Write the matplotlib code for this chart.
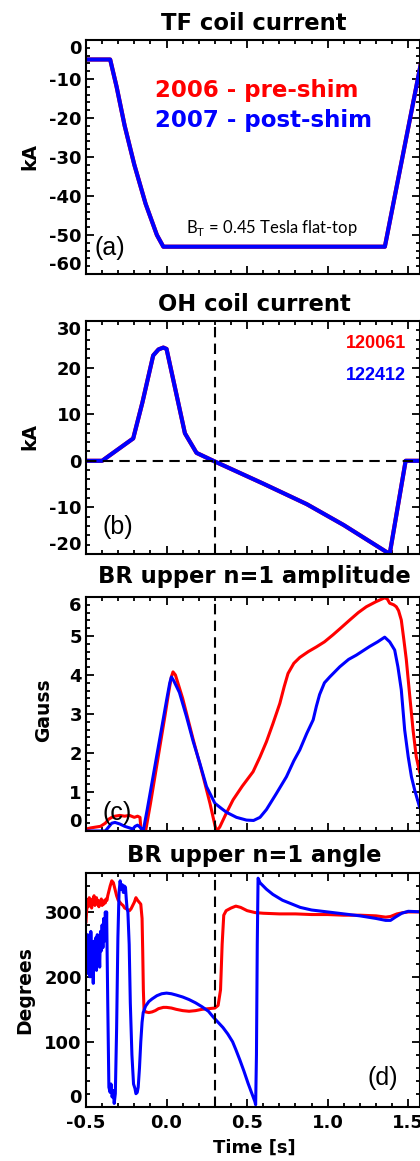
import matplotlib
matplotlib.use("Agg")
import matplotlib.pyplot as plt
from matplotlib.ticker import MultipleLocator, FixedLocator

plt.rcParams["axes.unicode_minus"] = False
plt.rcParams["font.family"] = ["DejaVu Sans"]

# ---------------- data ----------------
# (a) TF coil current [kA]
tf_t = [-0.5, -0.35, -0.31, -0.26, -0.20, -0.13, -0.06, -0.02, 1.355, 1.60]
tf_red = [-5, -5, -12, -22, -32, -42, -50, -53, -53, -1.5]
tf_blue = [-5, -5, -12, -22, -32, -42, -50, -53, -53, -1.5]

# (b) OH coil current [kA]
oh_t = [-0.5, -0.40, -0.207, -0.15, -0.083, -0.05, -0.02, 0.0, 0.114, 0.186,
        0.29, 0.60, 0.87, 1.10, 1.385, 1.484, 1.60]
oh_red = [0, 0, 4.8, 12.5, 22.6, 23.9, 24.3, 24.0, 5.9, 1.7,
          0, -4.9, -9.3, -13.8, -20.0, 0, 0]
oh_blue = [0, 0, 4.8, 12.5, 22.6, 23.9, 24.3, 24.0, 5.9, 1.7,
           0, -4.9, -9.3, -13.8, -20.0, 0, 0]

# (c) BR upper n=1 amplitude [Gauss]
amp_red_t = [-0.5, -0.47, -0.44, -0.41, -0.38, -0.36, -0.34, -0.32, -0.29, -0.26,
             -0.23, -0.20, -0.18, -0.165, -0.16, -0.155, -0.13, -0.10, -0.07, -0.04,
             -0.01, 0.015, 0.03, 0.04, 0.055, 0.10, 0.165, 0.227, 0.27, 0.30,
             0.31, 0.33, 0.37, 0.413, 0.47, 0.537, 0.58, 0.62, 0.66, 0.703,
             0.73, 0.754, 0.79, 0.827, 0.88, 0.93, 0.98, 1.033, 1.08, 1.137,
             1.19, 1.24, 1.30, 1.354, 1.37, 1.385, 1.41, 1.426, 1.44, 1.457,
             1.473, 1.488, 1.51, 1.53, 1.55, 1.57, 1.60]
amp_red = [0.05, 0.08, 0.10, 0.12, 0.20, 0.30, 0.35, 0.38, 0.40, 0.38,
           0.40, 0.35, 0.38, 0.35, 0.10, 0.0, 0.0, 0.70, 1.45, 2.20,
           2.95, 3.60, 3.95, 4.08, 4.00, 3.40, 2.35, 1.40, 0.70, 0.15,
           0.0, 0.10, 0.45, 0.80, 1.15, 1.52, 1.90, 2.29, 2.75, 3.27,
           3.70, 4.04, 4.30, 4.45, 4.60, 4.72, 4.85, 5.03, 5.20, 5.41,
           5.60, 5.75, 5.88, 5.98, 5.95, 5.84, 5.80, 5.75, 5.65, 5.41,
           4.90, 4.40, 3.44, 2.59, 1.90, 1.52, 1.20]
amp_blue_t = [-0.5, -0.38, -0.36, -0.34, -0.32, -0.29, -0.26, -0.23, -0.21, -0.195,
              -0.18, -0.165, -0.155, -0.145, -0.12, -0.09, -0.06, -0.03, 0.0, 0.02,
              0.03, 0.045, 0.08, 0.124, 0.165, 0.207, 0.248, 0.30, 0.34, 0.372,
              0.434, 0.496, 0.54, 0.58, 0.62, 0.68, 0.744, 0.79, 0.827, 0.87,
              0.91, 0.93, 0.95, 0.98, 1.013, 1.075, 1.13, 1.178, 1.26, 1.31,
              1.354, 1.385, 1.416, 1.436, 1.457, 1.478, 1.50, 1.52, 1.54, 1.57, 1.60]
amp_blue = [0.0, 0.0, 0.10, 0.20, 0.22, 0.18, 0.12, 0.08, 0.05, 0.12,
            0.15, 0.10, 0.05, 0.0, 0.55, 1.25, 1.95, 2.65, 3.35, 3.80,
            3.95, 3.85, 3.55, 2.93, 2.30, 1.73, 1.14, 0.71, 0.58, 0.48,
            0.35, 0.28, 0.27, 0.35, 0.55, 0.95, 1.39, 1.80, 2.08, 2.50,
            2.85, 3.20, 3.50, 3.80, 3.95, 4.21, 4.40, 4.51, 4.73, 4.85,
            4.97, 4.85, 4.64, 4.21, 3.62, 2.59, 1.90, 1.39, 1.05, 0.62, 0.40]

# (d) BR upper n=1 angle [degrees]
ang_red_t = [-0.5, -0.495, -0.49, -0.485, -0.48, -0.475, -0.47, -0.465, -0.46, -0.455,
             -0.45, -0.445, -0.44, -0.435, -0.43, -0.425, -0.42, -0.415, -0.41, -0.405,
             -0.40, -0.395, -0.39, -0.385, -0.38, -0.375, -0.37, -0.365, -0.36, -0.35,
             -0.34, -0.33, -0.32, -0.31, -0.30, -0.29, -0.28, -0.27, -0.26, -0.25,
             -0.24, -0.23, -0.22, -0.21, -0.20, -0.19, -0.18, -0.17, -0.16, -0.152,
             -0.148, -0.144, -0.14, -0.13, -0.11, -0.09, -0.07, -0.05, -0.02, 0.0,
             0.03, 0.06, 0.10, 0.14, 0.18, 0.22, 0.26, 0.30, 0.32, 0.335,
             0.345, 0.355, 0.37, 0.40, 0.43, 0.46, 0.50, 0.55, 0.60, 0.70,
             0.80, 0.90, 1.00, 1.10, 1.20, 1.30, 1.36, 1.39, 1.43, 1.47, 1.50, 1.60]
ang_red = [285, 305, 318, 308, 322, 312, 318, 306, 320, 314,
           325, 310, 318, 322, 312, 318, 308, 316, 312, 320,
           310, 316, 312, 318, 314, 320, 318, 325, 330, 340,
           348, 345, 335, 325, 318, 315, 312, 310, 306, 305,
           303, 302, 305, 310, 315, 322, 318, 315, 312, 290,
           240, 180, 150, 146, 145, 146, 148, 151, 153, 153,
           152, 150, 148, 147, 148, 150, 151, 152, 156, 180,
           250, 295, 302, 306, 309, 307, 302, 299, 298, 297,
           297, 296, 296, 295, 295, 294, 292, 293, 297, 299, 300, 300]
ang_blue_t = [-0.5, -0.495, -0.49, -0.485, -0.48, -0.475, -0.47, -0.465, -0.46, -0.455,
              -0.45, -0.445, -0.44, -0.435, -0.43, -0.425, -0.42, -0.415, -0.41, -0.405,
              -0.40, -0.395, -0.39, -0.385, -0.38, -0.375, -0.372, -0.365, -0.358, -0.35,
              -0.345, -0.338, -0.33, -0.325, -0.318, -0.31, -0.302, -0.295, -0.288, -0.282,
              -0.275, -0.268, -0.262, -0.255, -0.25, -0.245, -0.24, -0.232, -0.225, -0.215,
              -0.205, -0.196, -0.19, -0.182, -0.176, -0.168, -0.16, -0.152, -0.145, -0.13,
              -0.11, -0.09, -0.06, -0.03, 0.0, 0.03, 0.06, 0.10, 0.14, 0.18,
              0.22, 0.26, 0.29, 0.32, 0.35, 0.38, 0.41, 0.43, 0.455, 0.48,
              0.506, 0.53, 0.548, 0.553, 0.558, 0.563, 0.568, 0.58, 0.60, 0.62,
              0.66, 0.72, 0.78, 0.83, 0.90, 1.00, 1.10, 1.20, 1.30, 1.36,
              1.39, 1.42, 1.46, 1.50, 1.60]
ang_blue = [225, 205, 265, 215, 250, 200, 270, 220, 240, 190,
            255, 230, 260, 210, 265, 235, 250, 215, 270, 240,
            280, 245, 290, 255, 300, 265, 300, 160, 30, 22,
            35, 15, 25, 5, 20, 120, 260, 330, 348, 335,
            342, 330, 340, 338, 320, 305, 300, 250, 160, 80,
            35, 28, 20, 22, 30, 60, 100, 130, 145, 155,
            162, 166, 171, 174, 175, 174, 172, 169, 165, 160,
            154, 147, 138, 130, 122, 112, 100, 88, 72, 55,
            36, 20, 8, 3, 80, 250, 352, 345, 340, 335,
            327, 318, 312, 307, 303, 300, 297, 294, 290, 287,
            287, 292, 298, 301, 300]

titles = ["TF coil current", "OH coil current",
          "BR upper n=1 amplitude", "BR upper n=1 angle"]
ylabels = ["kA", "kA", "Gauss", "Degrees"]
panel_tags = ["(a)", "(b)", "(c)", "(d)"]
xticks = [-0.5, 0.0, 0.5, 1.0, 1.5]
yticks_a = [0, -10, -20, -30, -40, -50, -60]
yticks_b = [30, 20, 10, 0, -10, -20]
yticks_c = [0, 1, 2, 3, 4, 5, 6]
yticks_d = [0, 100, 200, 300]

# ---------------- layout ----------------
W, H = 420, 1161
fig = plt.figure(figsize=(W / 100, H / 100), dpi=100)

LEFT, RIGHT = 86, 419.5


def rect(top, bottom):
    return [LEFT / W, 1 - bottom / H, (RIGHT - LEFT) / W, (bottom - top) / H]


def ftext(x, y, s, **kw):
    return fig.text(x / W, 1 - y / H, s, **kw)


ax_a = fig.add_axes(rect(40, 274))
ax_b = fig.add_axes(rect(321, 554))
ax_c = fig.add_axes(rect(597, 831))
ax_d = fig.add_axes(rect(873, 1106.7))
axes = [ax_a, ax_b, ax_c, ax_d]

RED, BLUE = "#ff0000", "#0000ff"
DASH = dict(color="black", lw=1.5, dashes=(5, 3))

ax_a.plot(tf_t, tf_red, color=RED, lw=3.0)
ax_a.plot(tf_t, tf_blue, color=BLUE, lw=2.9)

ax_b.plot(oh_t, oh_red, color=RED, lw=3.0)
ax_b.plot(oh_t, oh_blue, color=BLUE, lw=2.9)
ax_b.axhline(0, **DASH)
ax_b.axvline(0.3, **DASH)

ax_c.plot(amp_red_t, amp_red, color=RED, lw=2.2)
ax_c.plot(amp_blue_t, amp_blue, color=BLUE, lw=2.2)
ax_c.axvline(0.3, **DASH)

ax_d.plot(ang_red_t, ang_red, color=RED, lw=2.2)
ax_d.plot(ang_blue_t, ang_blue, color=BLUE, lw=2.2)
ax_d.axvline(0.3, **DASH)

limits = [(-60, 0), (-20, 30), (0, 6), (0, 360)]
yticks_all = [yticks_a, yticks_b, yticks_c, yticks_d]
yminor = [2, 2, 0.2, 20]

for i, ax in enumerate(axes):
    ax.set_xlim(-0.5, 1.57)
    ax.set_ylim(*limits[i])
    ax.xaxis.set_major_locator(FixedLocator(xticks))
    ax.xaxis.set_minor_locator(MultipleLocator(0.1))
    ax.yaxis.set_major_locator(FixedLocator(yticks_all[i]))
    ax.yaxis.set_minor_locator(MultipleLocator(yminor[i]))
    ax.tick_params(which="both", direction="in", top=True, right=True,
                   width=1.3, colors="black")
    ax.tick_params(which="major", length=6, labelsize=13, pad=3)
    ax.tick_params(which="minor", length=3)
    ax.tick_params(axis="x", which="major", pad=5)
    for sp in ax.spines.values():
        sp.set_linewidth(1.5)
    for lab in ax.get_yticklabels() + ax.get_xticklabels():
        lab.set_fontweight("bold")
    if i < 3:
        ax.tick_params(labelbottom=False)

# shift edge tick labels inward like the reference
for ax, ticks in zip(axes, yticks_all):
    labs = ax.get_yticklabels()
    lo, hi = ax.get_ylim()
    for t, lab in zip(ticks, labs):
        if t == hi:
            lab.set_verticalalignment("top")
        elif t == lo:
            lab.set_verticalalignment("bottom")

# titles
title_base = [30, 310.7, 583.3, 862]
for s, yb in zip(titles, title_base):
    ftext(254, yb, s, ha="center", va="baseline", fontsize=16.3, fontweight="bold")

# y labels
ylab_pos = [(30, 157), (30, 437), (44, 710), (25, 990)]
for s, (x, y) in zip(ylabels, ylab_pos):
    ftext(x, y, s, ha="center", va="center", rotation=90,
          fontsize=13.5, fontweight="bold")

ftext(254, 1153, "Time [s]", ha="center", va="baseline",
      fontsize=13, fontweight="bold")

# panel tags
tag_pos = [(110, 248), (118, 527), (117, 813), (383, 1078)]
for s, (x, y) in zip(panel_tags, tag_pos):
    ftext(x, y, s, ha="center", va="center", fontsize=18,
          family=["Liberation Sans", "DejaVu Sans"])

# annotations
ftext(155, 96.7, "2006 - pre-shim", ha="left", va="baseline", color=RED,
      fontsize=16.5, fontweight="bold")
ftext(155, 126.7, "2007 - post-shim", ha="left", va="baseline", color=BLUE,
      fontsize=16.5, fontweight="bold")
ftext(272, 228, r"B$_\mathregular{T}$ = 0.45 Tesla flat-top", ha="center",
      va="center", fontsize=12, family=["Lato", "DejaVu Sans"])
ftext(406, 343, "120061", ha="right", va="center", color=RED, fontsize=13,
      fontweight="bold", family=["Liberation Sans", "DejaVu Sans"])
ftext(406, 375, "122412", ha="right", va="center", color=BLUE, fontsize=13,
      fontweight="bold", family=["Liberation Sans", "DejaVu Sans"])

fig.savefig("out.png", dpi=100)
